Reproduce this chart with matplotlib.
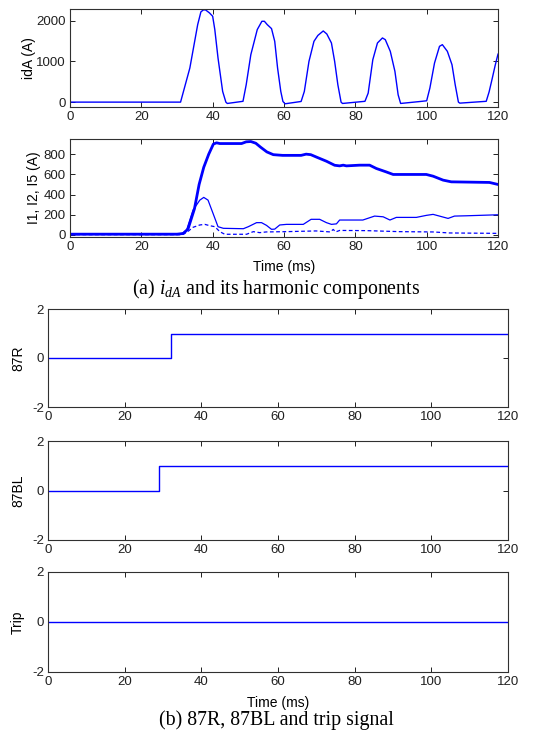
import numpy as np
import matplotlib
matplotlib.use("Agg")
import matplotlib.pyplot as plt

plt.rcParams['font.family'] = ['Liberation Sans', 'DejaVu Sans']
plt.rcParams['mathtext.fontset'] = 'custom'
plt.rcParams['mathtext.rm'] = 'Liberation Serif'
plt.rcParams['mathtext.it'] = 'Liberation Serif:italic'
plt.rcParams['axes.unicode_minus'] = False

# differential current idA (A)
t_ida = [0, 31.0, 33.6, 35.8, 36.7, 37.4, 38.0, 39.1, 40.0, 40.6, 41.5, 42.8, 43.7, 44.1,
         48.5, 49.4, 50.7, 52.5, 53.8, 54.5, 55.3, 56.5, 57.4, 58.2, 59.1, 59.7, 60.3,
         64.8, 65.7, 67.0, 68.4, 69.5, 71.0, 72.0, 73.3, 74.2, 75.1, 76.0, 76.4,
         82.7, 83.6, 84.9, 86.2, 87.6, 88.4, 89.8, 91.1, 92.0, 92.7,
         98.7, 100.0, 100.9, 102.2, 103.6, 104.4, 105.8, 107.1, 108.0, 108.9, 109.3,
         116.7, 117.5, 118.3, 119.2, 120.0]
ida = [0, 0, 838, 1906, 2219, 2268, 2268, 2194, 2112, 1783, 1085, 263, 0, -33,
       20, 427, 1167, 1783, 1988, 1988, 1906, 1808, 1495, 838, 263, 16, -41,
       16, 263, 1002, 1495, 1640, 1750, 1676, 1454, 1002, 427, 0, -33,
       20, 222, 1043, 1454, 1578, 1536, 1249, 756, 181, -33,
       20, 33, 345, 961, 1372, 1413, 1249, 920, 427, 0, -25,
       20, 250, 550, 900, 1180]

# harmonic magnitudes I1, I2, I5 (A)
t_i1 = [0, 30.0, 31.8, 33.1, 34.9, 36.2, 37.5, 38.9, 40.2, 41.1, 42.0, 48.1, 49.4, 50.7,
        52.1, 53.4, 55.2, 57.0, 59.6, 64.8, 66.2, 67.5, 69.3, 71.9, 74.2, 75.6, 76.6,
        77.5, 81.2, 84.0, 85.9, 88.6, 90.6, 99.9, 101.8, 104.6, 106.9, 117.6, 120.0]
i1 = [8, 8, 15, 60, 260, 500, 670, 800, 900, 912, 905, 905, 922, 925,
      908, 870, 822, 795, 788, 788, 800, 795, 768, 730, 690, 684, 691,
      684, 691, 691, 658, 625, 599, 599, 582, 543, 526, 520, 500]

t_i2 = [0, 31.0, 32.7, 34.5, 36.4, 37.5, 38.7, 40.1, 41.5, 43.0, 48.6, 50.0, 52.3, 53.7,
        55.1, 56.5, 57.4, 58.8, 60.7, 65.4, 67.6, 70.0, 71.9, 73.3, 74.7, 75.6, 82.1,
        85.4, 87.8, 89.7, 91.5, 97.1, 99.9, 101.8, 103.6, 106.0, 107.8, 111.1, 120.0]
i2 = [5, 5, 50, 247, 345, 372, 345, 214, 82, 66, 62, 82, 122, 122,
      95, 56, 58, 99, 105, 105, 155, 155, 122, 105, 110, 148, 148,
      187, 180, 148, 174, 174, 194, 204, 187, 164, 187, 190, 200]

t_i5 = [0, 31.5, 33.0, 34.5, 36.4, 37.8, 39.2, 40.6, 42.0, 43.4, 49.5, 51.4, 53.2, 55.0,
        60.7, 69.0, 73.0, 73.8, 74.5, 75.6, 83.1, 92.4, 101.8, 106.4, 120.0]
i5 = [3, 3, 33, 76, 99, 105, 92, 82, 33, 7, 7, 33, 23, 30,
      33, 40, 30, 55, 30, 45, 43, 33, 30, 20, 16]

# relay signals (step times 32 ms for 87R, 29 ms for 87BL)
t_sig = [0, 29.0, 32.0, 120.0]
r87 = [0, 0, 1, 1]
bl87 = [0, 1, 1, 1]
trip = [0, 0, 0, 0]

BLUE = (0, 0, 1)
W, H = 552, 733
fig = plt.figure(figsize=(W / 100, H / 100), dpi=100)


def px_axes(left, top, right, bottom):
    return fig.add_axes([left / W, 1 - bottom / H, (right - left) / W, (bottom - top) / H])


def style(ax):
    ax.tick_params(direction='in', top=True, right=True, labelsize=9.5, length=3.5,
                   width=0.7, pad=3, colors='#202020')
    for s in ax.spines.values():
        s.set_linewidth(0.8)
        s.set_color('#303030')
    ax.set_xlim(0, 120)
    ax.set_xticks(np.arange(0, 121, 20))


ax1 = px_axes(70, 9, 498, 107)
ax1.plot(t_ida, ida, color=BLUE, lw=1.0)
ax1.set_ylim(-120, 2290)
ax1.set_yticks([0, 1000, 2000])
ax1.set_ylabel('idA (A)', fontsize=10, labelpad=0)
style(ax1)

ax2 = px_axes(70, 139, 498, 237)
ax2.plot(t_i1, i1, color=BLUE, lw=2.0)
ax2.plot(t_i2, i2, color=BLUE, lw=0.9)
ax2.plot(t_i5, i5, color=BLUE, lw=0.9, ls=(0, (3, 2)))
ax2.set_ylim(-20, 950)
ax2.set_yticks([0, 200, 400, 600, 800])
ax2.set_ylabel('I1, I2, I5 (A)', fontsize=10, labelpad=2)
ax2.set_xlabel('Time (ms)', fontsize=10, labelpad=5)
style(ax2)

fig.text(0.5, 1 - 289 / H, r'(a) $i_{dA}$ and its harmonic components',
         ha='center', va='center', fontsize=14.3, family='Liberation Serif')

lower = [
    (309, 407, r87, '87R'),
    (441, 540, bl87, '87BL'),
    (572, 672, trip, 'Trip'),
]
for top, bottom, sig, name in lower:
    ax = px_axes(48, top, 508, bottom)
    ax.step(t_sig, sig, where='post', color=BLUE, lw=1.0)
    ax.set_ylim(-2, 2)
    ax.set_yticks([-2, 0, 2])
    ax.set_ylabel(name, fontsize=10, labelpad=5)
    style(ax)
    if name == 'Trip':
        ax.set_xlabel('Time (ms)', fontsize=10, labelpad=6)

fig.text(0.5, 1 - 720 / H, '(b) 87R, 87BL and trip signal',
         ha='center', va='center', fontsize=14.3, family='Liberation Serif')

fig.savefig('out.png', dpi=100, facecolor='white')
